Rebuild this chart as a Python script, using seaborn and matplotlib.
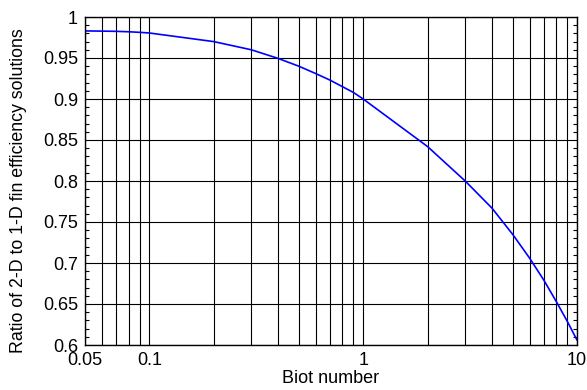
import matplotlib
matplotlib.use("Agg")
import matplotlib.pyplot as plt
import seaborn as sns
import numpy as np
import pandas as pd
from matplotlib.ticker import FixedLocator, MultipleLocator, NullFormatter

biot = [0.05, 0.06, 0.07, 0.08, 0.09, 0.1, 0.2, 0.3, 0.4, 0.5, 0.6, 0.7, 0.8, 0.9,
        1, 2, 3, 4, 5, 6, 7, 8, 9, 10]
ratio = [0.983, 0.9828, 0.9825, 0.982, 0.9813, 0.9805, 0.970, 0.960, 0.9495, 0.940,
         0.931, 0.923, 0.915, 0.908, 0.900, 0.842, 0.800, 0.767, 0.735, 0.706,
         0.679, 0.653, 0.629, 0.606]
xticks = [0.05, 0.1, 1, 10]
xtick_labels = ["0.05", "0.1", "1", "10"]
yticks = [0.6, 0.65, 0.7, 0.75, 0.8, 0.85, 0.9, 0.95, 1]
ytick_labels = ["0.6", "0.65", "0.7", "0.75", "0.8", "0.85", "0.9", "0.95", "1"]

df = pd.DataFrame({"Biot": biot, "Ratio": ratio})

sns.set_style("white")
plt.rcParams["font.family"] = ["Liberation Sans", "DejaVu Sans"]

fig = plt.figure(figsize=(5.87, 3.90), dpi=100)
ax = fig.add_axes([85 / 587, 1 - 345 / 390, 492 / 587, 328 / 390])

sns.lineplot(data=df, x="Biot", y="Ratio", ax=ax, color="#0000ff", linewidth=1.2)

ax.set_xscale("log")
ax.set_xlim(0.05, 10)
ax.set_ylim(0.6, 1.0)

# vertical grid lines at every decade subdivision
grid_x = [v for v in np.concatenate([np.arange(0.05, 0.1, 0.01), np.arange(0.1, 1, 0.1),
                                      np.arange(1, 10, 1), [10]])]
for gx in grid_x:
    ax.axvline(gx, color="black", linewidth=0.8, zorder=0)
for gy in yticks:
    ax.axhline(gy, color="black", linewidth=0.8, zorder=0)

ax.xaxis.set_major_locator(FixedLocator(xticks))
ax.set_xticklabels(xtick_labels)
ax.xaxis.set_minor_locator(FixedLocator([]))
ax.xaxis.set_minor_formatter(NullFormatter())
ax.set_yticks(yticks)
ax.set_yticklabels(ytick_labels)
ax.yaxis.set_minor_locator(MultipleLocator(0.01))

ax.tick_params(axis="x", which="both", length=0, labelsize=13, pad=5, colors="black")
ax.tick_params(axis="y", which="major", direction="in", length=0, labelsize=13, pad=5,
               colors="black", left=True, right=True)
ax.tick_params(axis="y", which="minor", direction="in", length=3, width=0.8,
               left=True, right=True, colors="black")

for s in ax.spines.values():
    s.set_color("black")
    s.set_linewidth(1.0)
    s.set_visible(True)

ax.set_xlabel("Biot number", fontsize=13, color="black")
ax.xaxis.set_label_coords(0.5, -25 / 328, transform=ax.transAxes)
ax.set_ylabel("Ratio of 2-D to 1-D fin efficiency solutions", fontsize=12.8,
              color="black")
ax.yaxis.set_label_coords(-58 / 492, 0.47, transform=ax.transAxes)

fig.savefig("out.png", dpi=100)
